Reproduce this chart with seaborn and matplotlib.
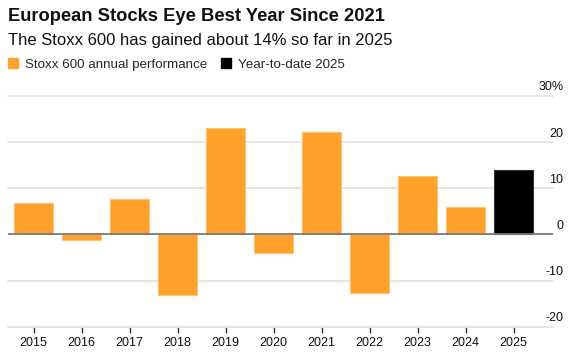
import matplotlib
matplotlib.use("Agg")
import matplotlib.pyplot as plt
import matplotlib.transforms as mtransforms
from matplotlib.lines import Line2D
import seaborn as sns
import pandas as pd

years = ["2015", "2016", "2017", "2018", "2019", "2020", "2021", "2022", "2023", "2024", "2025"]
values = [6.8, -1.2, 7.7, -13.2, 23.0, -4.0, 22.1, -12.8, 12.7, 6.0, 14.0]
kinds = ["Stoxx 600 annual performance"] * 10 + ["Year-to-date 2025"]
ytick_vals = [-20, -10, 0, 10, 20, 30]
ytick_labels = ["-20", "-10", "0", "10", "20", "30%"]
title = "European Stocks Eye Best Year Since 2021"
subtitle = "The Stoxx 600 has gained about 14% so far in 2025"

ORANGE = "#FFA12B"
BLACK = "#000000"
palette = {"Stoxx 600 annual performance": ORANGE, "Year-to-date 2025": BLACK}

sns.set_theme(style="white")
plt.rcParams["font.family"] = ["Liberation Sans", "DejaVu Sans"]

df = pd.DataFrame({"year": years, "value": values, "kind": kinds})

fig = plt.figure(figsize=(5.68, 3.53), dpi=100)
W, H = 568, 353
ax = fig.add_axes([8 / W, 26.3 / H, 545 / W, (326.7 - 96) / H])

sns.barplot(data=df, x="year", y="value", hue="kind", palette=palette,
            dodge=False, width=0.81, ax=ax, legend=False, zorder=3,
            saturation=1)
for p in ax.patches:
    fc = p.get_facecolor()
    if fc[0] > 0.5:
        p.set_edgecolor("#FFC272")
    else:
        p.set_edgecolor("#333333")
    p.set_linewidth(0.8)

ax.set_xlim(-0.535, 10.82)
ax.set_ylim(-20, 30)
ax.set_xlabel("")
ax.set_ylabel("")

for v in ytick_vals:
    if v == 0:
        continue
    ax.axhline(v, color="#E3E3E3", lw=1.3, zorder=1, clip_on=False)
ax.axhline(0, color="#7A7A7A", lw=1.3, zorder=4)

for s in ax.spines.values():
    s.set_visible(False)

ax.yaxis.tick_right()
ax.set_yticks(ytick_vals)
ax.set_yticklabels(ytick_labels)
ax.tick_params(axis="y", length=0, pad=7.5, labelsize=9, labelcolor="#111111")
offset = mtransforms.ScaledTranslation(0, 10 / 100, fig.dpi_scale_trans)
for lab in ax.get_yticklabels():
    lab.set_horizontalalignment("right")
    lab.set_transform(lab.get_transform() + offset)

ax.tick_params(axis="x", bottom=True, length=4.5, width=1, color="#333333",
               pad=3, labelsize=9, labelcolor="#111111")

fig.text(8 / W, 1 - 21 / H, title, fontsize=13.2, fontweight="bold",
         color="#111111", va="baseline", ha="left")
fig.text(8 / W, 1 - 44.7 / H, subtitle, fontsize=12,
         color="#111111", va="baseline", ha="left")

handles = [Line2D([], [], marker="s", linestyle="", markersize=6.5,
                  markerfacecolor=ORANGE, markeredgecolor=ORANGE),
           Line2D([], [], marker="s", linestyle="", markersize=6.5,
                  markerfacecolor=BLACK, markeredgecolor=BLACK)]
fig.legend(handles, ["Stoxx 600 annual performance", "Year-to-date 2025"],
           loc="center left", bbox_to_anchor=(8 / W, 1 - 64.5 / H), ncol=2,
           frameon=False, fontsize=9.6, handletextpad=0.5, columnspacing=1.0,
           handlelength=0.8, borderaxespad=0, borderpad=0)

fig.savefig("out.png", dpi=100)
